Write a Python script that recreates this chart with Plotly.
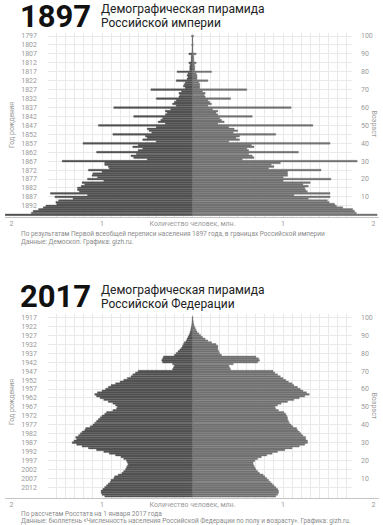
import plotly.graph_objects as go

# ---------------- data ----------------
ages = list(range(0, 101))

male_1897 = [
    2.07, 1.78, 1.76, 1.70, 1.65, 1.62, 1.50, 1.51, 1.48, 1.32,
    1.52, 1.16, 1.57, 1.25, 1.27, 1.27, 1.23, 1.19, 1.22, 0.98,
    1.16, 1.05, 1.11, 1.10, 1.00, 1.15, 0.92, 0.93, 0.97, 0.97,
    1.44, 0.50, 0.65, 0.68, 0.62, 1.06, 0.60, 0.55, 0.66, 0.60,
    1.21, 0.40, 0.55, 0.50, 0.52, 0.88, 0.45, 0.48, 0.50, 0.40,
    1.04, 0.30, 0.38, 0.35, 0.33, 0.65, 0.30, 0.28, 0.30, 0.24,
    0.87, 0.18, 0.22, 0.20, 0.18, 0.40, 0.15, 0.14, 0.15, 0.12,
    0.46, 0.08, 0.10, 0.09, 0.08, 0.18, 0.06, 0.05, 0.06, 0.05,
    0.17, 0.03, 0.03, 0.03, 0.025, 0.04, 0.015, 0.015, 0.015, 0.012,
    0.04, 0.006, 0.006, 0.005, 0.005, 0.008, 0.004, 0.004, 0.004, 0.003,
    0.01]

female_1897 = [
    2.04, 1.81, 1.79, 1.77, 1.66, 1.59, 1.57, 1.51, 1.49, 1.28,
    1.52, 1.12, 1.52, 1.27, 1.25, 1.24, 1.28, 1.22, 1.30, 1.00,
    1.53, 1.00, 1.05, 1.05, 1.05, 1.42, 0.84, 0.90, 0.87, 0.97,
    1.82, 0.55, 0.68, 0.66, 0.62, 1.17, 0.62, 0.60, 0.68, 0.65,
    1.52, 0.40, 0.52, 0.48, 0.52, 0.92, 0.45, 0.50, 0.46, 0.40,
    1.33, 0.28, 0.35, 0.32, 0.30, 0.66, 0.28, 0.26, 0.28, 0.22,
    1.09, 0.17, 0.21, 0.19, 0.17, 0.42, 0.14, 0.13, 0.14, 0.11,
    0.60, 0.08, 0.08, 0.08, 0.07, 0.17, 0.05, 0.05, 0.05, 0.04,
    0.21, 0.025, 0.025, 0.025, 0.02, 0.04, 0.015, 0.015, 0.015, 0.012,
    0.04, 0.006, 0.006, 0.005, 0.005, 0.008, 0.004, 0.004, 0.004, 0.003,
    0.012]

male_2017 = [
    0.97, 1.00, 1.01, 1.01, 0.99, 0.97, 0.95, 0.93, 0.91, 0.90,
    0.87, 0.86, 0.82, 0.78, 0.76, 0.74, 0.73, 0.72, 0.71, 0.72,
    0.73, 0.76, 0.79, 0.85, 0.92, 0.98, 1.06, 1.15, 1.22, 1.28,
    1.33, 1.31, 1.28, 1.29, 1.26, 1.24, 1.22, 1.19, 1.18, 1.13,
    1.10, 1.08, 1.06, 1.04, 1.02, 1.00, 0.97, 0.95, 0.88, 0.84,
    0.83, 0.85, 0.88, 0.93, 0.98, 1.02, 1.06, 1.08, 1.05, 1.00,
    0.96, 0.93, 0.90, 0.85, 0.80, 0.76, 0.72, 0.68, 0.66, 0.63,
    0.60, 0.22, 0.21, 0.20, 0.22, 0.33, 0.34, 0.33, 0.32, 0.20,
    0.18, 0.16, 0.14, 0.12, 0.11, 0.10, 0.09, 0.07, 0.06, 0.05,
    0.04, 0.03, 0.025, 0.02, 0.015, 0.01, 0.008, 0.006, 0.005, 0.004,
    0.003]

female_2017 = [
    0.92, 0.94, 0.95, 0.95, 0.94, 0.92, 0.90, 0.88, 0.86, 0.84,
    0.82, 0.80, 0.78, 0.74, 0.72, 0.70, 0.69, 0.68, 0.67, 0.67,
    0.69, 0.72, 0.76, 0.82, 0.88, 0.94, 1.02, 1.10, 1.18, 1.24,
    1.27, 1.27, 1.25, 1.25, 1.22, 1.20, 1.18, 1.16, 1.15, 1.11,
    1.09, 1.07, 1.06, 1.05, 1.05, 1.04, 1.03, 1.01, 0.95, 0.92,
    0.91, 0.94, 0.98, 1.05, 1.12, 1.18, 1.24, 1.29, 1.26, 1.22,
    1.19, 1.16, 1.12, 1.10, 1.06, 1.03, 1.00, 0.97, 0.94, 0.91,
    0.89, 0.42, 0.41, 0.40, 0.45, 0.72, 0.74, 0.73, 0.70, 0.32,
    0.30, 0.29, 0.28, 0.28, 0.28, 0.26, 0.21, 0.17, 0.14, 0.11,
    0.09, 0.07, 0.05, 0.04, 0.03, 0.02, 0.015, 0.01, 0.008, 0.005,
    0.004]

years_1897 = [1897 - a for a in ages]
years_2017 = [2017 - a for a in ages]
year_ticks_1897 = list(range(1797, 1897, 5))
year_ticks_2017 = list(range(1917, 2017, 5))
age_ticks = [100, 90, 80, 70, 60, 50, 40, 30, 20, 10]
x_tick_vals = [-2, -1, 0, 1, 2]
x_tick_text = ["2", "1", "Количество человек, млн.", "1", "2"]

# ---------------- geometry (pixels) ----------------
W, H = 383, 525
CX, S = 192.5, 90.5          # centre pixel, pixels per million
BAR_L, BAR_R = 5, 379
GRID_L, GRID_R = 48, 352
PPY = 1.788                  # pixels per year

charts = [
    dict(census=1897, first=1797, top=33, bottom=216.5, p100=36.0,
         big_y=16.5, s1_y=9.3, s2_y=23, n1_y=234, n2_y=241.7,
         ylab_y=125, alab_y=124),
    dict(census=2017, first=1917, top=314, bottom=497.5, p100=317.5,
         big_y=296, s1_y=290, s2_y=303.5, n1_y=514, n2_y=520.8,
         ylab_y=402, alab_y=406),
]

def px_x(p):
    return p / W

def px_y(p):
    return 1 - p / H

def xr(l, r):
    return [(l - CX) / S, (r - CX) / S]

def sfx(k):
    return "" if k == 1 else str(k)

FONT = "Roboto"
TICK = dict(family=FONT, size=7, color="#9a9a9a")
GRIDC = "#e9e9e9"
MALE_C = "#525252"
FEMALE_C = "#727272"

fig = go.Figure()
layout = dict(
    width=W, height=H, margin=dict(l=0, r=0, t=0, b=0),
    paper_bgcolor="white", plot_bgcolor="rgba(0,0,0,0)",
    showlegend=False, barmode="overlay", bargap=0.04,
    font=dict(family=FONT, color="#222"),
)

data_sets = [(male_1897, female_1897, years_1897, year_ticks_1897),
             (male_2017, female_2017, years_2017, year_ticks_2017)]

for i, (ch, (m, f, yrs, yt)) in enumerate(zip(charts, data_sets)):
    gx, bx = 2 * i + 1, 2 * i + 2                  # x axis ids: grid, bars
    gy, ay, by = 3 * i + 1, 3 * i + 2, 3 * i + 3   # y axis ids: grid, age, bars

    def yr_at(p, ch=ch):
        return ch["first"] + (p - ch["p100"]) / PPY
    yrange = [yr_at(ch["bottom"]), yr_at(ch["top"])]
    arange = [ch["census"] - yrange[0], ch["census"] - yrange[1]]
    ydom = [px_y(ch["bottom"]), px_y(ch["top"])]

    layout["xaxis" + sfx(gx)] = dict(
        domain=[px_x(GRID_L), px_x(GRID_R)], range=xr(GRID_L, GRID_R),
        showgrid=True, gridcolor=GRIDC, gridwidth=1, dtick=0.1, tick0=0,
        showticklabels=False, zeroline=False, showline=False, ticks="",
        anchor="y" + sfx(gy), fixedrange=True)
    layout["yaxis" + sfx(gy)] = dict(
        domain=ydom, range=yrange, tickvals=yt, showgrid=True,
        gridcolor=GRIDC, gridwidth=1, zeroline=False, showline=False,
        ticks="", tickfont=TICK, ticklabelstandoff=10,
        anchor="x" + sfx(gx), fixedrange=True)
    layout["yaxis" + sfx(ay)] = dict(
        domain=ydom, overlaying="y" + sfx(gy), side="right", range=arange,
        tickvals=age_ticks, showgrid=False, zeroline=False,
        ticks="", tickfont=TICK, ticklabelstandoff=8,
        anchor="x" + sfx(gx), fixedrange=True)
    layout["xaxis" + sfx(bx)] = dict(
        domain=[px_x(BAR_L), px_x(BAR_R)], range=xr(BAR_L, BAR_R),
        showgrid=False, zeroline=False, showline=True, linecolor="#c4c4c4",
        linewidth=1, ticks="", tickvals=x_tick_vals, ticktext=x_tick_text,
        tickfont=TICK, anchor="y" + sfx(by), fixedrange=True)
    layout["yaxis" + sfx(by)] = dict(
        domain=ydom, range=yrange, showgrid=False, zeroline=False,
        showticklabels=False, ticks="", anchor="x" + sfx(bx), fixedrange=True)

    # empty traces so that the grid and age axes are drawn
    fig.add_trace(go.Scatter(x=[], y=[], xaxis="x" + sfx(gx),
                             yaxis="y" + sfx(gy), hoverinfo="skip"))
    fig.add_trace(go.Scatter(x=[], y=[], xaxis="x" + sfx(gx),
                             yaxis="y" + sfx(ay), hoverinfo="skip"))
    fig.add_trace(go.Bar(y=yrs, x=[-v for v in m], orientation="h",
                         marker=dict(color=MALE_C,
                                     line=dict(width=0.35, color=MALE_C)),
                         xaxis="x" + sfx(bx), yaxis="y" + sfx(by),
                         name="Мужчины"))
    fig.add_trace(go.Bar(y=yrs, x=f, orientation="h",
                         marker=dict(color=FEMALE_C,
                                     line=dict(width=0.35, color=FEMALE_C)),
                         xaxis="x" + sfx(bx), yaxis="y" + sfx(by),
                         name="Женщины"))

ann = []
def text(x, y, s, size, color="#222", xanchor="left", yanchor="middle",
         angle=0, bold=False):
    ann.append(dict(x=px_x(x), y=px_y(y), xref="paper", yref="paper",
                    text=s, showarrow=False, xanchor=xanchor, yanchor=yanchor,
                    textangle=angle, align="left",
                    font=dict(family=FONT, size=size, color=color,
                              weight=700 if bold else 400)))

notes = [
    ("1897", "Демографическая пирамида", "Российской империи",
     "По результатам Первой всеобщей переписи населения 1897 года, в границах Российской империи",
     "Данные: Демоскоп. Графика: gizh.ru."),
    ("2017", "Демографическая пирамида", "Российской Федерации",
     "По рассчетам Росстата на 1 января 2017 года",
     "Данные: бюллетень «Численность населения Российской Федерации по полу и возрасту». Графика: gizh.ru."),
]
for ch, (big, s1, s2, n1, n2) in zip(charts, notes):
    text(18, ch["big_y"], big, 31, "#111", bold=True)
    text(99, ch["s1_y"], s1, 12, "#222")
    text(99, ch["s2_y"], s2, 12, "#222")
    text(12, ch["ylab_y"], "Год рождения", 7, "#9a9a9a", xanchor="center", angle=-90)
    text(373.5, ch["alab_y"], "Возраст", 7, "#9a9a9a", xanchor="center", angle=90)
    text(19, ch["n1_y"], n1, 6.5, "#8a8a8a")
    text(19, ch["n2_y"], n2, 6.5, "#8a8a8a")

layout["annotations"] = ann
fig.update_layout(**layout)
fig.write_html("out.html",
               config={"displayModeBar": False, "staticPlot": True},
               post_script="document.body.style.margin='0';"
                           "document.body.style.padding='0';")
